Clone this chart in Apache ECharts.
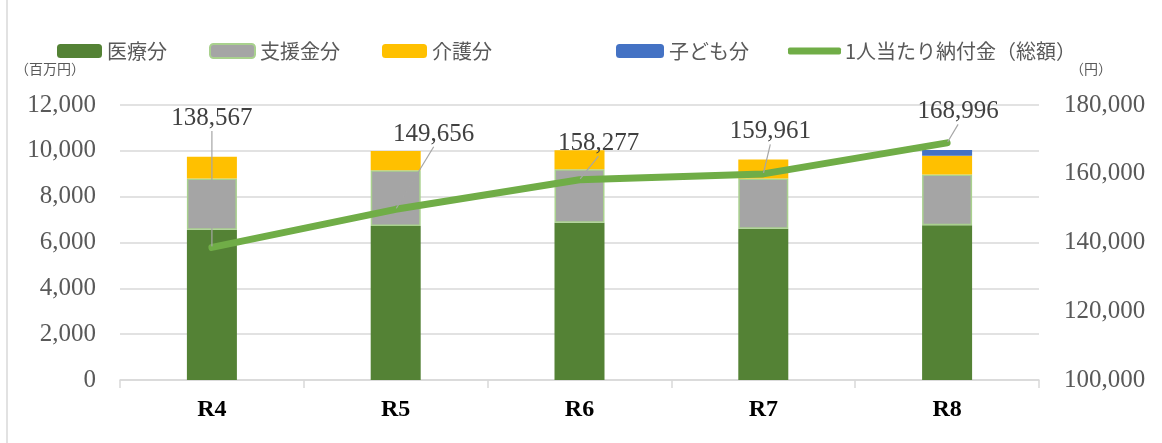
<!DOCTYPE html>
<html>
<head>
<meta charset="utf-8">
<script src="https://cdn.jsdelivr.net/npm/echarts@6/dist/echarts.min.js"></script>
<style>
html, body { margin: 0; padding: 0; background: #fff; }
#main { width: 1162px; height: 443px; }
</style>
</head>
<body>
<div id="main"></div>
<script>
// 年度
var years = ['R4', 'R5', 'R6', 'R7', 'R8'];
// 百万円
var iryou = [6560, 6720, 6860, 6600, 6750];
var shien = [2230, 2430, 2340, 2190, 2220];
var kaigo = [950, 840, 830, 830, 815];
var kodomo = [0, 0, 0, 0, 250];
// 円
var perPerson = [138567, 149656, 158277, 159961, 168996];
// label offsets (dx, dy) from each point, like the excel layout
var labelShift = [[0, -129], [38, -75], [19, -36], [7, -42], [11, -31]];

var serif = "'Liberation Serif', 'DejaVu Serif', serif";
var jp = "'Noto Sans CJK JP', 'Noto Sans', sans-serif";

var chart = echarts.init(document.getElementById('main'));
var option = {
    animation: false,
    backgroundColor: '#fff',
    graphic: [{
        type: 'line',
        shape: { x1: 7, y1: 0, x2: 7, y2: 443 },
        style: { stroke: '#D9D9D9', lineWidth: 1.5 }
    }],
    legend: [
        {
            data: ['医療分', '支援金分', '介護分'],
            left: 57, top: 41, padding: 0,
            itemWidth: 45, itemHeight: 14, itemGap: 42,
            textStyle: { fontFamily: jp, fontSize: 20, color: '#595959' }
        },
        {
            data: ['子ども分'],
            left: 616, top: 41, padding: 0,
            itemWidth: 48, itemHeight: 14,
            textStyle: { fontFamily: jp, fontSize: 20, color: '#595959' }
        },
        {
            data: [{ name: '1人当たり納付金（総額）', icon: 'roundRect' }],
            left: 788, top: 41, padding: 0,
            itemWidth: 53, itemHeight: 7,
            textStyle: { fontFamily: jp, fontSize: 20, color: '#595959', padding: [0, 0, 0, -1] }
        }
    ],
    grid: { left: 120, right: 123, top: 105, bottom: 63 },
    xAxis: {
        type: 'category',
        data: years,
        axisLine: { lineStyle: { color: '#D9D9D9', width: 1.5 } },
        axisTick: { show: true, length: 8, lineStyle: { color: '#D9D9D9', width: 1.5 } },
        axisLabel: { margin: 18, fontFamily: serif, fontSize: 24, fontWeight: 'bold', color: '#000' }
    },
    yAxis: [
        {
            type: 'value',
            min: 0, max: 12000, interval: 2000,
            name: '（百万円）',
            nameGap: 36,
            nameTextStyle: { fontFamily: jp, fontSize: 14, color: '#595959', align: 'right', verticalAlign: 'middle', padding: [0, 35, 0, 0] },
            axisLine: { show: false },
            axisTick: { show: false },
            splitLine: { lineStyle: { color: '#D9D9D9', width: 1.5 } },
            axisLabel: {
                margin: 24, fontFamily: serif, fontSize: 25, color: '#595959',
                formatter: function (v) { return v.toLocaleString('en-US'); }
            }
        },
        {
            type: 'value',
            min: 100000, max: 180000, interval: 20000,
            name: '（円）',
            nameGap: 36,
            nameTextStyle: { fontFamily: jp, fontSize: 14, color: '#595959', align: 'left', verticalAlign: 'middle', padding: [0, 0, 0, 31] },
            axisLine: { show: false },
            axisTick: { show: false },
            splitLine: { show: false },
            axisLabel: {
                margin: 25, fontFamily: serif, fontSize: 25, color: '#595959',
                formatter: function (v) { return v.toLocaleString('en-US'); }
            }
        }
    ],
    series: [
        {
            name: '医療分', type: 'bar', stack: 'a', barWidth: 50,
            data: iryou,
            itemStyle: { color: '#548235' }
        },
        {
            name: '支援金分', type: 'bar', stack: 'a', barWidth: 50,
            data: shien,
            itemStyle: { color: '#A5A5A5', borderColor: '#A9D18E', borderWidth: 1.5 }
        },
        {
            name: '介護分', type: 'bar', stack: 'a', barWidth: 50,
            data: kaigo,
            itemStyle: { color: '#FFC000' }
        },
        {
            name: '子ども分', type: 'bar', stack: 'a', barWidth: 50,
            data: kodomo,
            itemStyle: { color: '#4472C4' }
        },
        {
            name: '1人当たり納付金（総額）', type: 'line', yAxisIndex: 1,
            data: perPerson,
            symbol: 'circle', symbolSize: 2, showSymbol: true,
            itemStyle: { color: '#70AD47' },
            lineStyle: { color: '#70AD47', width: 7, cap: 'round', join: 'round' },
            z: 5,
            label: {
                show: true, position: 'inside',
                fontFamily: serif, fontSize: 25, color: '#404040',
                formatter: function (p) { return p.value.toLocaleString('en-US'); }
            },
            labelLine: { show: true, lineStyle: { color: '#A6A6A6', width: 1.2 } },
            labelLayout: function (p) {
                var o = labelShift[p.dataIndex];
                return { dx: o[0], dy: o[1] };
            }
        }
    ]
};
chart.setOption(option);
</script>
</body>
</html>
